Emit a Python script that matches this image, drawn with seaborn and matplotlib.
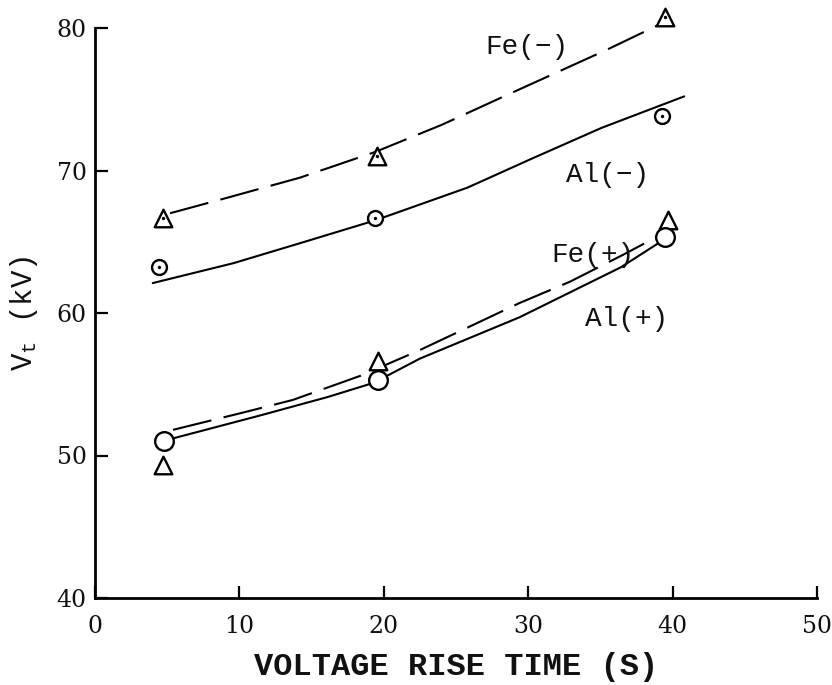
import numpy as np
import pandas as pd
import matplotlib
matplotlib.use("Agg")
import matplotlib.pyplot as plt
import seaborn as sns

# ---- data ----
# measured points
fe_neg_x = [4.7, 19.5, 39.5]
fe_neg_y = [66.7, 71.0, 80.8]
al_neg_x = [4.4, 19.4, 39.3]
al_neg_y = [63.2, 66.7, 73.8]
fe_pos_x = [4.7, 19.6, 39.7]
fe_pos_y = [49.3, 56.6, 66.5]
al_pos_x = [4.8, 19.6, 39.5]
al_pos_y = [51.0, 55.3, 65.3]

# hand-drawn fitted curves
fe_neg_cx = [5.2, 9.2, 14.2, 19.4, 24.0, 28.1, 31.8, 35.5, 39.2]
fe_neg_cy = [67.0, 68.1, 69.5, 71.3, 73.2, 75.1, 76.8, 78.5, 80.3]
al_neg_cx = [4.0, 9.6, 14.2, 19.4, 25.8, 30.4, 35.1, 40.8]
al_neg_cy = [62.1, 63.5, 64.9, 66.5, 68.8, 70.9, 73.0, 75.2]
fe_pos_cx = [5.4, 10.2, 13.7, 18.4, 22.5, 29.4, 32.9, 36.6, 39.2]
fe_pos_cy = [51.8, 53.0, 53.9, 55.6, 57.4, 60.7, 62.2, 64.1, 65.5]
al_pos_cx = [5.4, 11.4, 16.1, 19.3, 22.5, 29.4, 36.4, 40.1]
al_pos_cy = [51.2, 52.8, 54.1, 55.1, 56.8, 59.7, 63.2, 65.6]

labels = ["Fe(\u2212)", "Al(\u2212)", "Fe(+)", "Al(+)"]
label_x = [29.9, 35.5, 34.5, 36.8]
label_y = [78.7, 69.7, 64.1, 59.6]

x_ticks = [0, 10, 20, 30, 40, 50]
y_ticks = [40, 50, 60, 70, 80]
x_title = "VOLTAGE RISE TIME (S)"

# ---- styling ----
sns.set_style("ticks")
plt.rcParams["mathtext.fontset"] = "custom"
plt.rcParams["mathtext.rm"] = "Liberation Mono"
plt.rcParams["mathtext.it"] = "Liberation Mono"

fig = plt.figure(figsize=(8.32, 6.85), dpi=100)
ax = fig.add_axes([95 / 832, 87 / 685, 722 / 832, 570 / 685])

lw = 1.5
curves = [
    (fe_neg_cx, fe_neg_cy, True),
    (al_neg_cx, al_neg_cy, False),
    (fe_pos_cx, fe_pos_cy, True),
    (al_pos_cx, al_pos_cy, False),
]
for cx, cy, dashed in curves:
    sns.lineplot(x=cx, y=cy, ax=ax, color="black", linewidth=lw, sort=False,
                 estimator=None, zorder=2)
    ln = ax.lines[-1]
    ln.set_clip_on(False)
    if dashed:
        ln.set_dashes((19, 6))

# markers
def pts(xs, ys, marker, s, dot=False):
    sns.scatterplot(x=xs, y=ys, ax=ax, marker=marker, s=s, facecolor="white",
                    edgecolor="black", linewidth=1.7, zorder=4, clip_on=False)
    if dot:
        sns.scatterplot(x=xs, y=ys, ax=ax, marker="o", s=6, color="black",
                        linewidth=0, zorder=5, clip_on=False)

pts(fe_neg_x, fe_neg_y, "^", 160, dot=True)
pts(al_neg_x, al_neg_y, "o", 115, dot=True)
pts(fe_pos_x, fe_pos_y, "^", 160)
pts(al_pos_x, al_pos_y, "o", 180)

for t, lx, ly in zip(labels, label_x, label_y):
    ax.text(lx, ly, t, ha="center", va="center", fontsize=20,
            family="Liberation Mono", color="#111111", zorder=6)

ax.set_xlim(0, 50)
ax.set_ylim(40, 80)
ax.set_xticks(x_ticks)
ax.set_yticks(y_ticks)
ax.set_xticklabels([str(v) for v in x_ticks], family="DejaVu Serif", fontsize=17)
ax.set_yticklabels([str(v) for v in y_ticks], family="DejaVu Serif", fontsize=17)
ax.tick_params(axis="both", direction="in", length=9, width=1.6, colors="black",
               labelcolor="#111111")
ax.tick_params(axis="x", pad=12)
ax.tick_params(axis="y", pad=6)

sns.despine(ax=ax)
for sp in ["left", "bottom"]:
    ax.spines[sp].set_linewidth(2.0)
    ax.spines[sp].set_color("black")

ax.set_xlabel(x_title, family="Liberation Mono", fontsize=23, fontweight="bold",
              labelpad=10, color="#111111")
ax.set_ylabel("V$_\\mathrm{t}$ (kV)", family="Liberation Mono", fontsize=21,
              labelpad=12, color="#111111")

fig.savefig("out.png", dpi=100, facecolor="white")
